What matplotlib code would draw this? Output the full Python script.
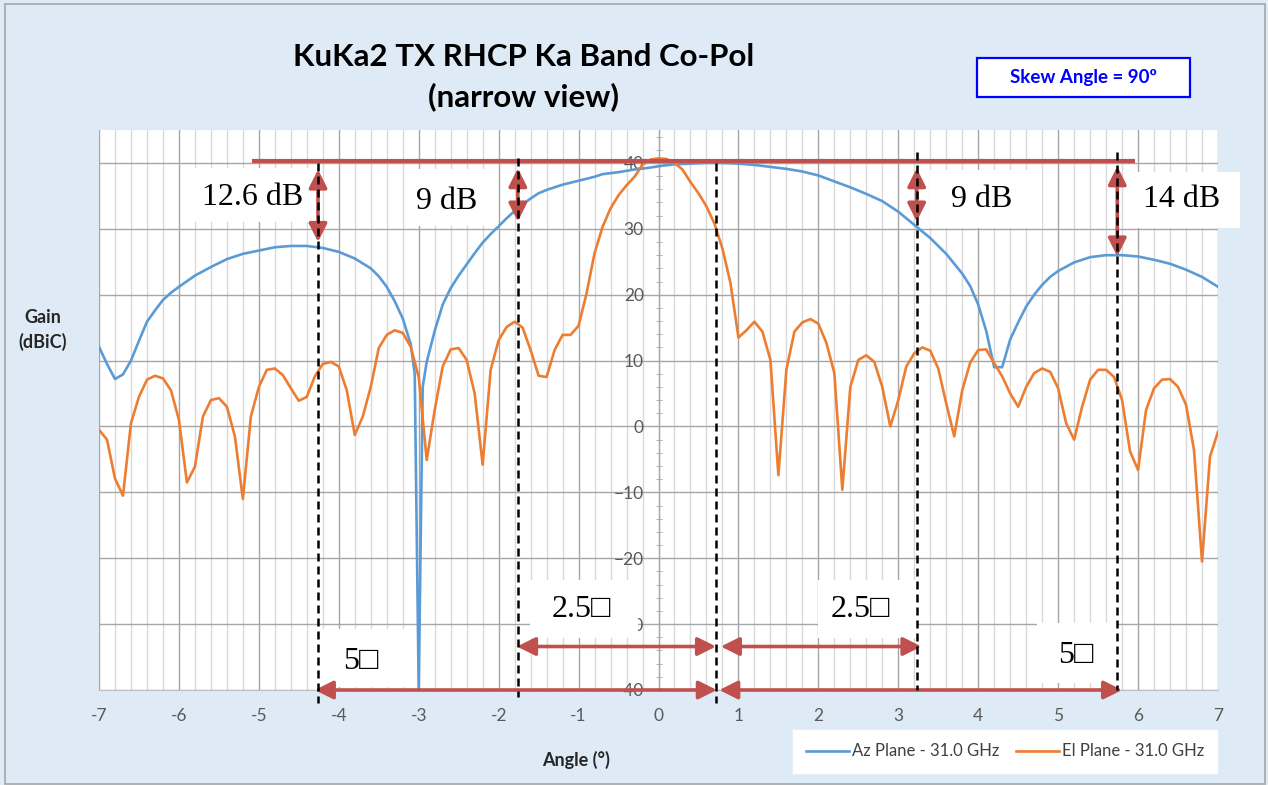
import matplotlib
matplotlib.use("Agg")
import matplotlib.pyplot as plt
from matplotlib.patches import Rectangle, FancyArrowPatch
from matplotlib.ticker import MultipleLocator

plt.rcParams['font.family'] = ['Lato', 'DejaVu Sans']

# ---------------- data ----------------
az_x = [-7.0, -6.9, -6.8, -6.7, -6.6, -6.5, -6.4, -6.3, -6.2, -6.1, -6.0, -5.8, -5.6, -5.4,
        -5.2, -5.0, -4.8, -4.6, -4.4, -4.2, -4.0, -3.8, -3.6, -3.5, -3.4, -3.3, -3.2, -3.1,
        -3.05, -3.0, -2.95, -2.9, -2.8, -2.7, -2.6, -2.5, -2.4, -2.3, -2.2, -2.1, -2.0, -1.9,
        -1.8, -1.7, -1.6, -1.5, -1.4, -1.3, -1.2, -1.0, -0.8, -0.7, -0.5, -0.3, -0.1, 0.0,
        0.2, 0.4, 0.6, 0.8, 1.0, 1.2, 1.4, 1.6, 1.8, 2.0, 2.2, 2.4, 2.6, 2.8, 3.0, 3.2, 3.4,
        3.6, 3.8, 3.9, 4.0, 4.1, 4.2, 4.3, 4.4, 4.5, 4.6, 4.7, 4.8, 4.9, 5.0, 5.2, 5.4, 5.6,
        5.8, 6.0, 6.2, 6.4, 6.6, 6.8, 7.0]
az_y = [12.1, 9.5, 7.2, 7.9, 10.0, 13.0, 15.9, 17.6, 19.2, 20.3, 21.2, 22.9, 24.2, 25.4,
        26.2, 26.7, 27.2, 27.4, 27.4, 27.1, 26.5, 25.5, 24.0, 22.8, 21.2, 19.0, 16.4, 12.5,
        8.0, -40.0, 6.0, 9.8, 14.5, 18.5, 21.0, 22.9, 24.6, 26.3, 27.9, 29.2, 30.4, 31.6,
        32.7, 33.7, 34.6, 35.4, 35.9, 36.3, 36.7, 37.3, 37.9, 38.3, 38.6, 39.0, 39.3, 39.5,
        39.8, 39.9, 40.0, 40.0, 39.9, 39.7, 39.4, 39.1, 38.7, 38.1, 37.2, 36.3, 35.3, 34.2,
        32.6, 30.6, 28.6, 26.2, 23.2, 21.3, 18.5, 14.5, 9.0, 9.0, 13.2, 15.8, 18.2, 20.0,
        21.5, 22.7, 23.6, 24.9, 25.7, 26.0, 26.0, 25.8, 25.3, 24.7, 23.8, 22.7, 21.2]

el_x = [round(-7.0 + 0.1 * i, 1) for i in range(141)]
el_y = [-0.5, -2.0, -7.9, -10.5, 0.5, 4.5, 7.1, 7.7, 7.3, 5.5,      # -7.0 .. -6.1
        1.0, -8.5, -6.1, 1.5, 4.0, 4.3, 3.0, -1.5, -11.0, 1.5,     # -6.0 .. -5.1
        6.0, 8.6, 8.8, 7.8, 5.8, 3.9, 4.5, 7.6, 9.5, 9.8,          # -5.0 .. -4.1
        9.1, 5.5, -1.3, 1.5, 6.0, 11.9, 13.9, 14.6, 14.2, 12.1,    # -4.0 .. -3.1
        7.5, -5.1, 2.5, 9.1, 11.7, 11.9, 10.1, 5.0, -5.8, 8.6,     # -3.0 .. -2.1
        13.1, 15.1, 15.9, 15.0, 11.6, 7.7, 7.5, 11.6, 13.9, 13.9,  # -2.0 .. -1.1
        15.3, 20.2, 26.3, 30.3, 33.1, 35.1, 36.6, 37.9, 39.7, 40.5,  # -1.0 .. -0.1
        40.7, 40.6, 40.0, 39.0, 37.1, 35.4, 33.4, 30.8, 27.0, 21.8,  # 0.0 .. 0.9
        13.5, 14.6, 15.9, 14.4, 10.1, -7.4, 8.6, 14.4, 15.8, 16.3,   # 1.0 .. 1.9
        15.6, 12.7, 8.1, -9.6, 6.0, 10.1, 10.8, 9.8, 6.0, 0.0,       # 2.0 .. 2.9
        4.0, 9.1, 11.1, 12.0, 11.5, 8.8, 3.5, -1.5, 5.5, 9.7,        # 3.0 .. 3.9
        11.6, 11.7, 9.6, 7.6, 5.0, 3.0, 6.0, 8.1, 8.8, 8.3,          # 4.0 .. 4.9
        5.8, 0.5, -2.0, 3.0, 7.1, 8.6, 8.6, 7.5, 4.0, -3.8,          # 5.0 .. 5.9
        -6.6, 2.5, 5.8, 7.1, 7.2, 6.0, 3.3, -3.6, -20.5, -4.6,       # 6.0 .. 6.9
        -0.8]                                                        # 7.0

x_ticks = [-7, -6, -5, -4, -3, -2, -1, 0, 1, 2, 3, 4, 5, 6, 7]
y_ticks = [-40, -30, -20, -10, 0, 10, 20, 30, 40]

# annotation content
ref_level = 40.3
ref_span = (-5.09, 5.96)
marker_x = [-4.26, -1.76, 0.72, 3.23, 5.74]
marker_top = [40.0, 40.7, 40.0, 41.7, 41.7]
marker_bot = [-42.0, -41.0, -42.0, -40.0, -40.0]
drop_arrows = [(-4.26, 39.0, 28.0), (-1.76, 39.2, 31.1), (3.23, 39.2, 31.1), (5.74, 39.5, 25.8)]
span_arrows = [(-4.30, 0.73, -40.0), (0.76, 5.80, -40.0), (-1.77, 0.72, -33.4), (0.78, 3.29, -33.4)]
label_boxes = [  # (x0, x1, y0, y1)
    (-5.83, -4.36, 31.0, 39.2), (-3.17, -2.01, 30.4, 39.1), (3.40, 4.80, 30.1, 38.9),
    (5.92, 7.27, 30.1, 38.6), (-1.61, -0.26, -32.1, -23.3), (1.99, 3.23, -32.1, -23.3),
    (-4.32, -3.13, -39.5, -30.7), (4.74, 5.74, -39.0, -29.8)]
label_texts = ["12.6 dB", "9 dB", "9 dB", "14 dB", "2.5\u25a1", "2.5\u25a1", "5\u25a1", "5\u25a1"]
label_pos = [(-5.08, 34.7), (-2.65, 34.2), (4.04, 34.4), (6.55, 34.4),
             (-0.97, -27.8), (2.52, -27.8), (-3.73, -35.7), (5.22, -34.7)]

# ---------------- figure ----------------
W, H = 1268, 785
fig = plt.figure(figsize=(W / 100, H / 100), dpi=100, facecolor='#DEEAF6')
fig.patches.append(Rectangle((5 / W, 1 / H), 1 - 8 / W, 1 - 5 / H, transform=fig.transFigure,
                             fill=False, edgecolor='#A6A6A6', lw=1.2))

ax = fig.add_axes([99 / W, 1 - 690 / H, (1218 - 99) / W, (690 - 130) / H])
ax.set_facecolor('white')
ax.set_xlim(-7, 7)
ax.set_ylim(-40, 45)
ax.set_axisbelow(True)

ax.set_xticks(x_ticks)
ax.xaxis.set_minor_locator(MultipleLocator(0.2))
ax.set_yticks(y_ticks)
ax.yaxis.set_minor_locator(MultipleLocator(2))
ax.grid(True, which='major', axis='both', color='#A6A6A6', lw=1.0)
ax.grid(True, which='minor', axis='x', color='#D9D9D9', lw=1.0)

for s in ['top', 'right']:
    ax.spines[s].set_visible(False)
ax.spines['left'].set_position(('data', 0))
ax.spines['left'].set_color('#A6A6A6')
ax.spines['bottom'].set_color('#BFBFBF')
ax.spines['left'].set_zorder(1)

ax.tick_params(axis='x', which='both', length=0, pad=13, labelsize=12.5, labelcolor='#595959')
ax.tick_params(axis='y', which='major', direction='inout', length=5, color='#A6A6A6',
               pad=8, labelsize=12.5, labelcolor='#595959')
ax.tick_params(axis='y', which='minor', direction='inout', length=5, color='#A6A6A6')
ax.set_xticklabels([str(v) for v in x_ticks])

l1, = ax.plot(az_x, az_y, color='#5B9BD5', lw=1.9, zorder=3, label='Az Plane - 31.0 GHz')
l2, = ax.plot(el_x, el_y, color='#ED7D31', lw=1.9, zorder=3.1, label='El Plane - 31.0 GHz')

# white label boxes
for (x0, x1, y0, y1) in label_boxes:
    ax.add_patch(Rectangle((x0, y0), x1 - x0, y1 - y0, facecolor='white', edgecolor='none',
                           zorder=4, clip_on=False))

# reference line
ax.plot(ref_span, [ref_level, ref_level], color='#C0504D', lw=3, zorder=5,
        solid_capstyle='butt', clip_on=False)

# dashed markers
for x, yt, yb in zip(marker_x, marker_top, marker_bot):
    ax.plot([x, x], [yt, yb], color='black', lw=1.8, ls=(0, (3.2, 2.0)), zorder=6, clip_on=False)

red = '#C0504D'
style = '<|-|>,head_length=1.1,head_width=0.55'
for x, yt, yb in drop_arrows:
    ax.add_patch(FancyArrowPatch((x, yt), (x, yb), arrowstyle=style, mutation_scale=10,
                                 color=red, lw=2.6, shrinkA=0, shrinkB=0, zorder=5.5,
                                 clip_on=False))
for xa, xb, y in span_arrows:
    ax.add_patch(FancyArrowPatch((xa, y), (xb, y), arrowstyle=style, mutation_scale=10,
                                 color=red, lw=2.6, shrinkA=0, shrinkB=0, zorder=5.5,
                                 clip_on=False))

for s, (x, y) in zip(label_texts, label_pos):
    ax.text(x, y, s, fontsize=23, family=['Liberation Serif', 'DejaVu Sans'],
            ha='center', va='center', color='black', zorder=7, clip_on=False)

# titles and labels
fig.text(524 / W, 1 - 77 / H, 'KuKa2 TX RHCP Ka Band Co-Pol\n(narrow view)', ha='center',
         va='center', fontsize=22.5, fontweight='bold', color='black', linespacing=1.45)
fig.patches.append(Rectangle((977 / W, 1 - 97 / H), (1190 - 977) / W, (97 - 58) / H,
                             transform=fig.transFigure, facecolor='white',
                             edgecolor='#0000FF', lw=1.6))
fig.text(1083.5 / W, 1 - 78 / H, 'Skew Angle = 90\u00ba', ha='center', va='center',
         fontsize=13.5, fontweight='bold', color='#0000FF')
fig.text(43 / W, 1 - 330 / H, 'Gain\n(dBiC)', ha='center', va='center', fontsize=13,
         fontweight='bold', color='#262626', linespacing=1.4)
fig.text(576 / W, 1 - 760 / H, 'Angle (\u00b0)', ha='center', va='center', fontsize=13,
         fontweight='bold', color='#262626')

leg = fig.legend([l1, l2], [l1.get_label(), l2.get_label()], loc='center',
                 bbox_to_anchor=(1005 / W, 1 - 751.5 / H), ncol=2, frameon=True,
                 facecolor='white', edgecolor='white', fancybox=False, framealpha=1,
                 fontsize=12, handlelength=2.6, handletextpad=0.15, columnspacing=1.0,
                 borderpad=0.8)
for t in leg.get_texts():
    t.set_color('#404040')

fig.savefig('out.png', dpi=100, facecolor=fig.get_facecolor())
